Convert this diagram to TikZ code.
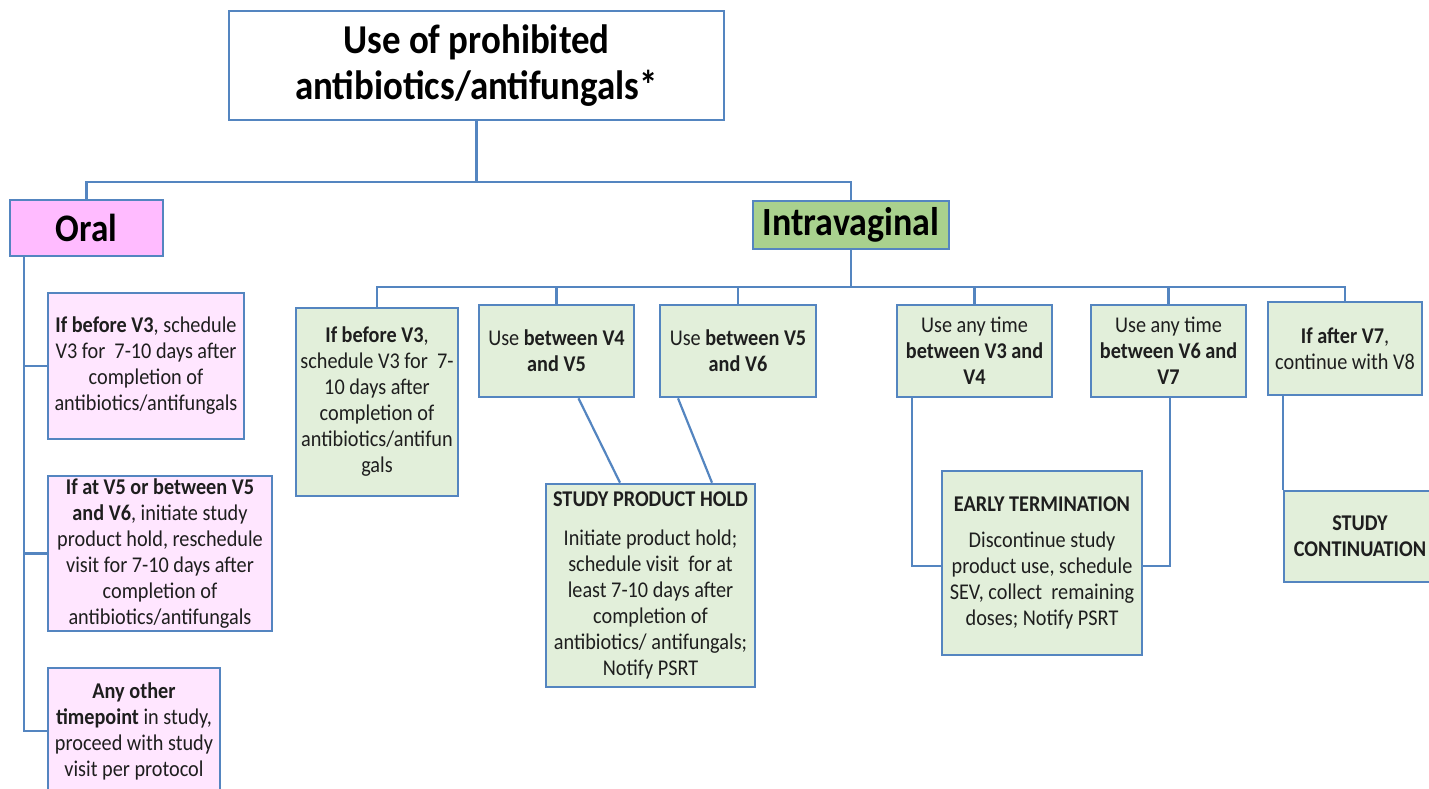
\documentclass[tikz,border=0pt]{standalone}
\usepackage{fontspec}
\setmainfont{Carlito}[FakeStretch=0.9]
\usetikzlibrary{calc}
\definecolor{bordc}{RGB}{84,133,192}
\definecolor{pinkhead}{RGB}{255,187,255}
\definecolor{pinkbox}{RGB}{255,230,255}
\definecolor{greenhead}{RGB}{169,209,142}
\definecolor{greenbox}{RGB}{226,239,218}
\definecolor{txt}{RGB}{30,30,30}
\tikzset{
  base/.style={draw=bordc, line width=2.6pt, rectangle, align=center, inner sep=1pt, text=txt,
    font=\fontsize{22.5}{26}\selectfont},
  pbox/.style={base, fill=pinkbox},
  gbox/.style={base, fill=greenbox},
  conn/.style={draw=bordc, line width=2.2pt},
}
\begin{document}
\begin{tikzpicture}[x=1pt,y=-1pt]
\useasboundingbox (0,0) rectangle (1429,788);
\clip (0,0) rectangle (1429,788);
% header nodes
\node[base, fill=white, text=black, minimum width=495pt, minimum height=109pt,
  font=\bfseries\fontsize{41}{46}\selectfont] (top) at (476.5,65.5) {Use of prohibited\\antibiotics/antifungals*};
\node[base, fill=pinkhead, text=black, minimum width=153pt, minimum height=56pt,
  font=\bfseries\fontsize{39}{44}\selectfont] (oral) at (86.5,228) {Oral};
\node[base, fill=greenhead, text=black, minimum width=196pt, minimum height=48pt,
  font=\bfseries\fontsize{40}{44}\selectfont] (intra) at (851,225) {Intravaginal};
% oral branch
\node[pbox, minimum width=196pt, minimum height=146pt] (o1) at (146,366)
  {\textbf{If before V3}, schedule\\V3 for~~7-10 days after\\completion of\\antibiotics/antifungals};
\node[pbox, minimum width=224pt, minimum height=155pt, inner ysep=0pt] (o2) at (160,553.5)
  {\textbf{If at V5 or between V5}\\\textbf{and V6}, initiate~study\\product hold, reschedule\\visit for 7-10 days after\\completion of\\antibiotics/antifungals};
\node[pbox, minimum width=172pt, minimum height=126pt] (o3) at (134,731)
  {\textbf{Any other}\\\textbf{timepoint} in study,\\proceed with study\\visit per protocol};
% intravaginal branch
\node[gbox, minimum width=162pt, minimum height=188pt] (A) at (377,402)
  {\textbf{If before V3},\\schedule V3 for~~7-\\10 days after\\completion of\\antibiotics/antifun\\gals};
\node[gbox, minimum width=155pt, minimum height=92pt] (B) at (556.5,351)
  {Use \textbf{between V4}\\\textbf{and V5}};
\node[gbox, minimum width=156pt, minimum height=92pt] (C) at (738,351)
  {Use \textbf{between V5}\\\textbf{and V6}};
\node[gbox, minimum width=155pt, minimum height=92pt] (D) at (974.5,351)
  {Use any time\\\textbf{between V3 and}\\\textbf{V4}};
\node[gbox, minimum width=155pt, minimum height=92pt] (E) at (1168.5,351)
  {Use any time\\\textbf{between V6 and}\\\textbf{V7}};
\node[gbox, minimum width=154pt, minimum height=93pt] (F) at (1345,348.5)
  {\textbf{If after V7},\\continue with V8};
\node[gbox, minimum width=209pt, minimum height=203pt] (hold) at (650.5,585.5)
  {\textbf{STUDY PRODUCT HOLD}\\[13pt]Initiate product hold;\\schedule visit~ for at\\least 7-10 days after\\completion of\\antibiotics/ antifungals;\\Notify PSRT};
\node[gbox, minimum width=200pt, minimum height=184pt] (ET) at (1042,563)
  {\textbf{EARLY TERMINATION}\\[10pt]Discontinue study\\product use, schedule\\SEV, collect~ remaining\\doses; Notify PSRT};
\node[gbox, minimum width=152pt, minimum height=91pt] (SC) at (1360,536.5)
  {\textbf{STUDY}\\\textbf{CONTINUATION}};
% connectors: top level
\coordinate (j1) at (476.5,182);
\draw[conn] (top.south) -- (j1);
\draw[conn] (oral.north) |- (j1) -| (intra.north);
% oral trunk
\coordinate (trunk) at ($(oral.south west)+(15,0)$);
\draw[conn] (trunk) |- (o3.west);
\draw[conn] (o1.west) -- (o1.west -| trunk);
\draw[conn] (o2.west) -- (o2.west -| trunk);
% intravaginal bus
\coordinate (bus) at (851,287);
\draw[conn] (intra.south) -- (bus);
\draw[conn] (A.north) |- (bus) -| (F.north);
\draw[conn] (B.north) -- (B.north |- bus);
\draw[conn] (C.north) -- (C.north |- bus);
\draw[conn] (D.north) -- (D.north |- bus);
\draw[conn] (E.north) -- (E.north |- bus);
% to outcome boxes
\draw[conn] ($(B.south)+(22,0)$) -- ($(hold.north)+(-30.5,0)$);
\draw[conn] ($(C.south)+(-60,0)$) -- ($(hold.north)+(61.5,0)$);
\draw[conn] ($(D.south west)+(16,0)$) |- ($(ET.west)+(0,3)$);
\draw[conn] ($(E.south)+(1.5,0)$) |- ($(ET.east)+(0,3)$);
\draw[conn] ($(F.south west)+(16,0)$) -- (SC.north west);
\end{tikzpicture}
\end{document}
